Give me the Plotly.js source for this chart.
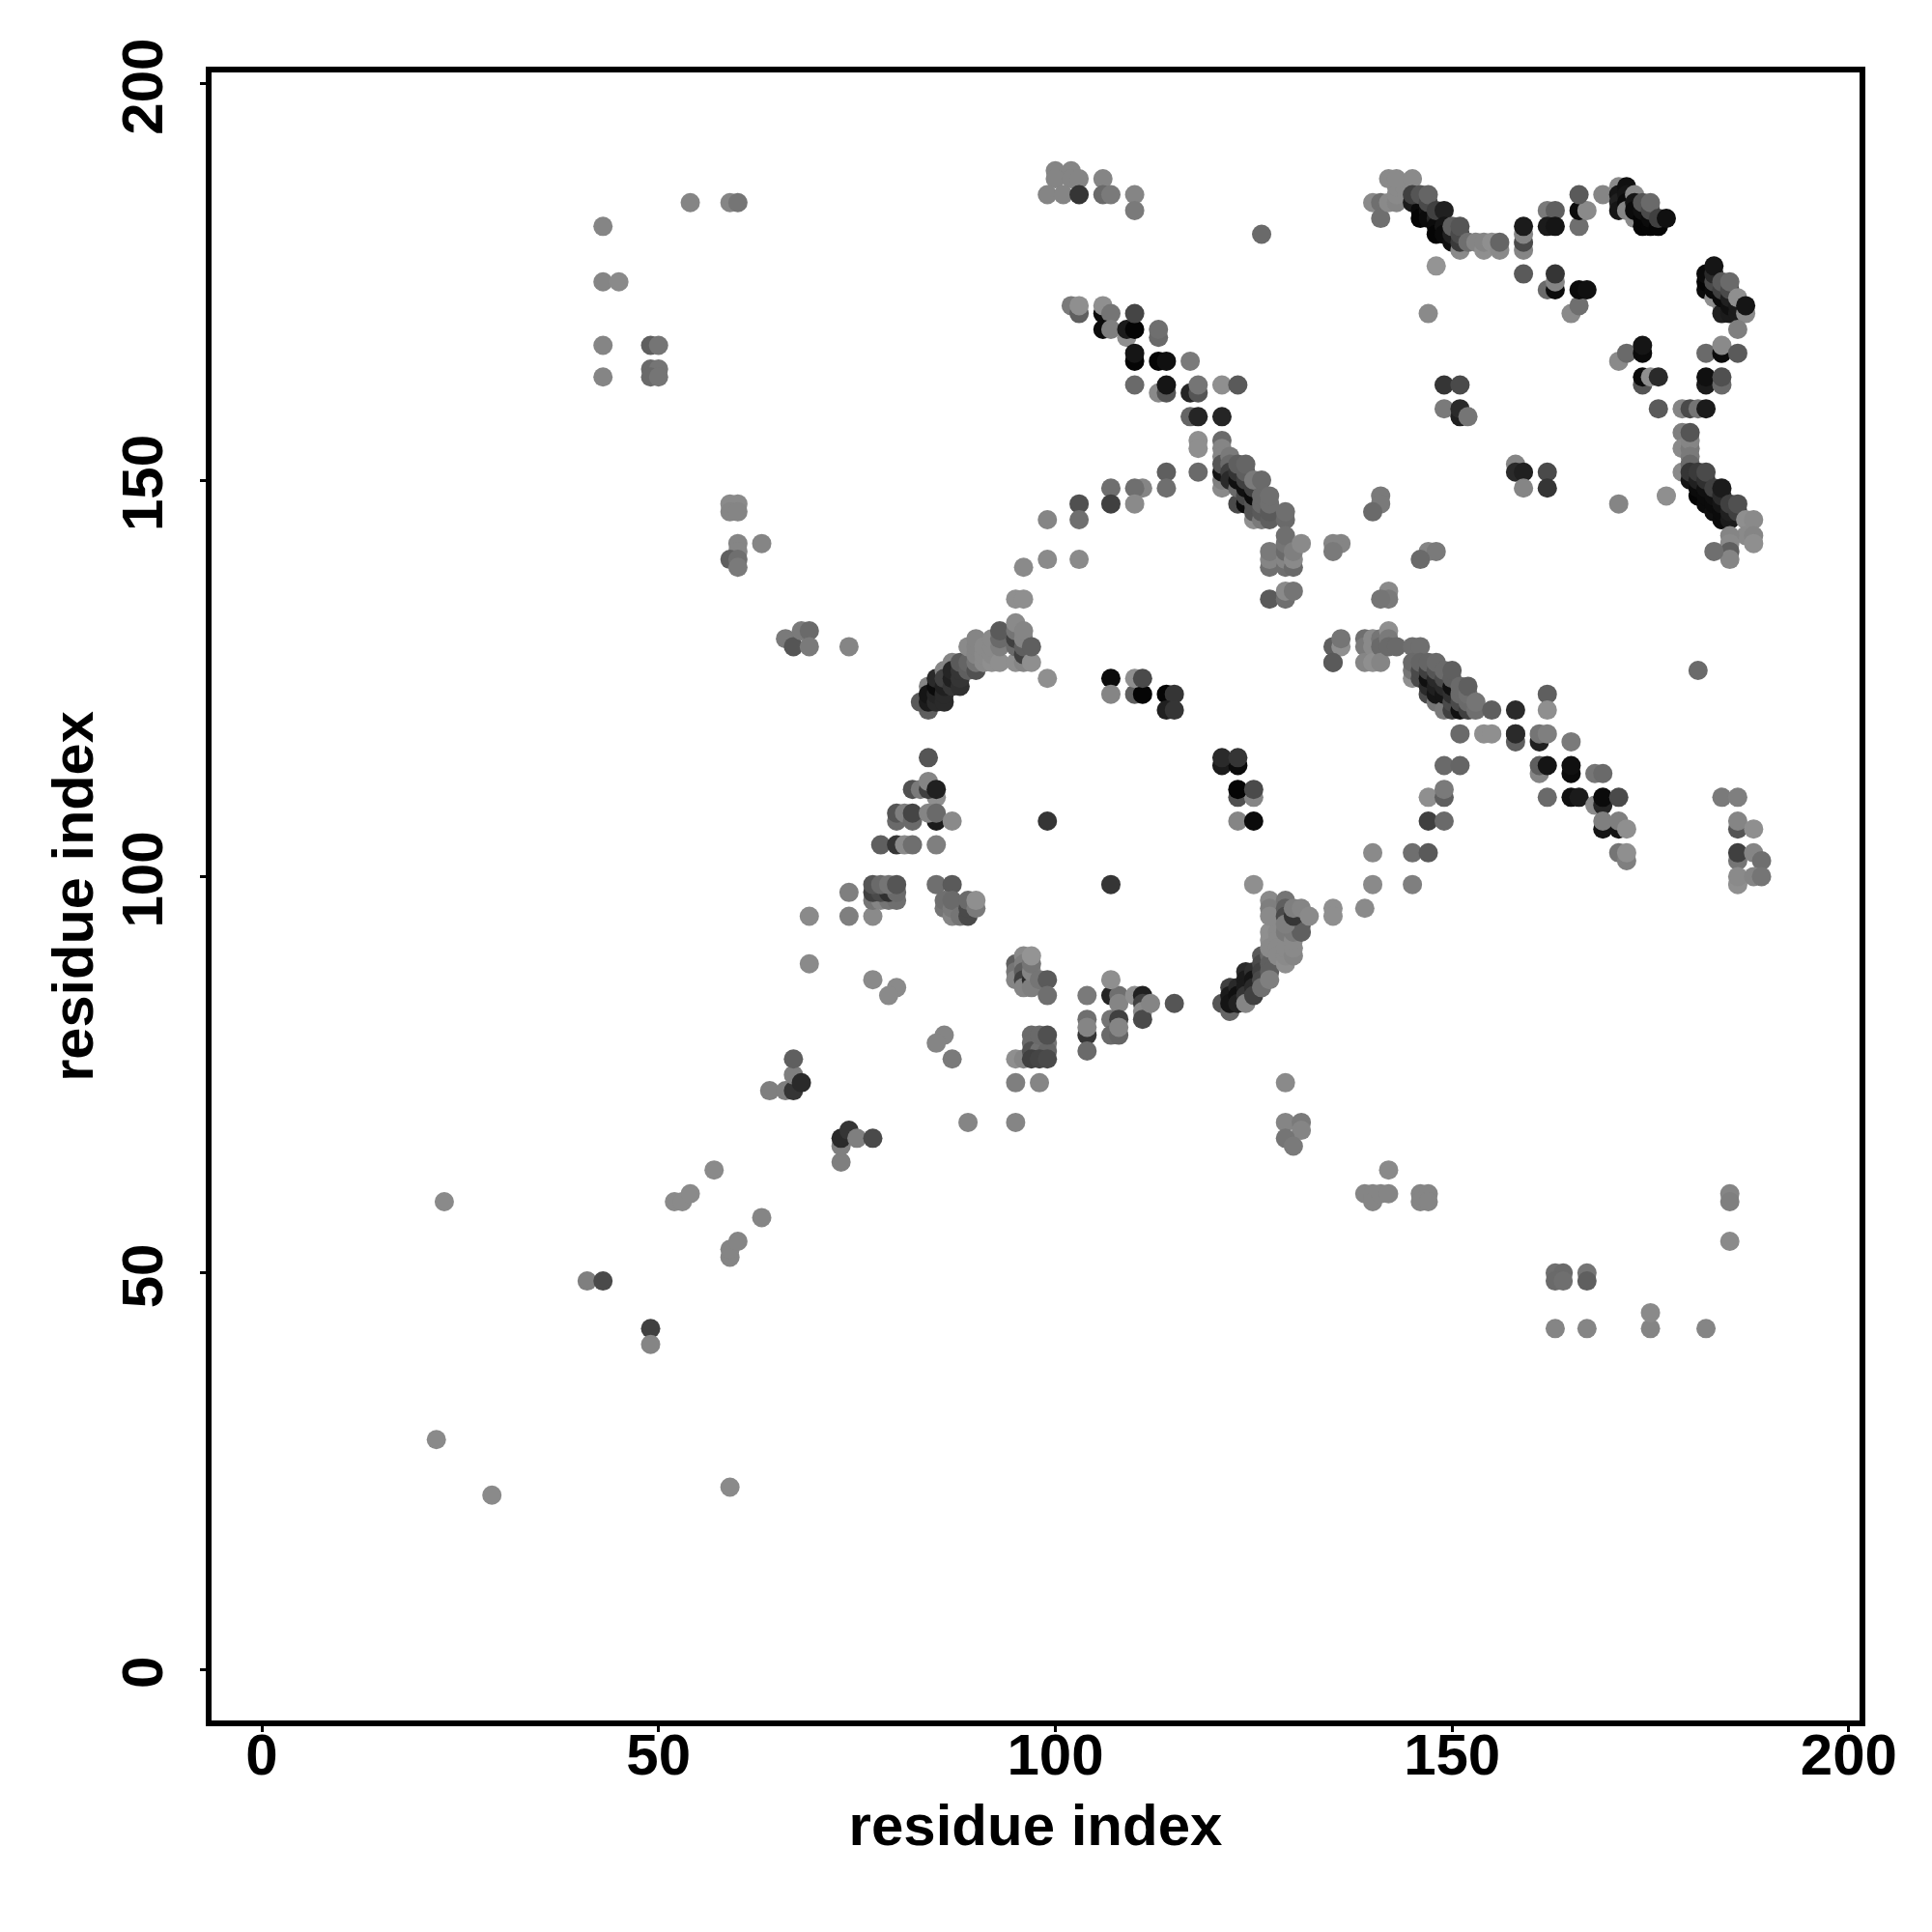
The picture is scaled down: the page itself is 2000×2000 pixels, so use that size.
<!DOCTYPE html>
<html><head><meta charset="utf-8">
<script src="https://cdn.plot.ly/plotly-3.0.1.min.js"></script>
<style>html,body{margin:0;padding:0;background:#fff}</style></head>
<body><div id="chart" style="width:2000px;height:2000px"></div>
<script>
// each entry: residue x, residue y, grey level
const lowerLeft=[[22,29,130],[29,22,130],[59,23,130],[23,59,130],[41,49,120],[43,49,70],[49,43,60],[49,41,125],[59,52,125],[59,53,125],[60,54,125],[63,57,125],[57,63,130],[52,59,130],[53,59,130],[54,60,130]];
const lowDiag=[[64,73,120],[66,73,120],[67,73,50],[67,75,120],[67,77,90],[68,74,40],[73,64,120],[73,66,120],[73,67,40],[74,68,50],[75,67,120],[77,67,70],[69,89,130],[69,95,130],[74,95,120],[74,98,120],[77,87,130],[80,86,130],[79,85,130],[86,80,125],[85,79,125],[87,77,115],[89,69,125],[95,69,125],[95,74,120],[98,74,125],[95,77,135]];
const blockA=[[96,77,125],[97,80,100],[97,79,100],[99,79,110],[97,78,75],[98,78,105],[99,78,95],[97,77,60],[98,77,65],[99,77,70],[98,80,100],[99,80,75]];
const blockB=[[95,89,90],[95,88,110],[95,87,125],[96,90,130],[96,89,120],[96,88,90],[96,87,60],[96,86,125],[97,87,40],[97,86,120],[97,88,125],[97,89,110],[98,87,110],[99,87,85],[99,85,105],[97,90,140]];
const blockC=[[104,85,115],[107,85,35],[108,85,105],[108,84,125],[107,87,135],[110,85,135],[111,85,30],[111,84,60],[111,83,130],[111,82,70],[112,84,125],[115,84,80],[104,80,50],[104,82,105],[104,81,125],[104,78,100],[107,82,110],[107,80,100],[108,80,95],[108,82,60],[108,81,125]];
const arcLowRight=[[121,84,80],[122,83,95],[122,86,60],[122,85,25],[122,84,20],[123,86,40],[123,85,15],[123,84,30],[124,88,40],[124,87,25],[124,86,25],[124,85,50],[124,84,125],[125,88,45],[125,87,20],[125,86,40],[125,85,60],[126,90,85],[126,89,70],[126,88,60],[126,87,70],[126,86,105],[127,90,100],[127,89,90],[127,88,90],[127,87,120],[127,93,135],[127,92,135],[127,91,130],[128,93,130],[128,92,130],[128,91,130],[128,90,130],[129,89,135],[129,90,130],[129,91,130],[129,93,115],[130,90,125],[130,91,130],[130,92,130],[130,93,115],[131,94,70],[131,93,90],[127,97,130],[127,96,120],[127,95,130],[129,97,110],[129,96,90],[129,95,70],[129,94,120],[130,95,50],[130,96,120],[131,96,125],[132,95,130],[135,96,135],[135,95,135],[125,99,135]];
const midRight=[[139,96,130],[140,99,130],[140,103,130],[145,99,120],[145,103,105],[147,103,85],[147,107,60],[149,107,100],[147,110,135],[149,110,90],[149,111,115],[149,114,100],[151,114,95],[151,118,100],[154,118,135],[155,118,135],[158,118,90],[158,117,90],[158,118,40],[158,121,40],[162,123,90],[162,121,135],[161,117,30],[161,118,110],[162,118,120],[165,117,115]];
const stepsRight=[[161,113,125],[161,114,90],[162,114,20],[165,113,10],[165,114,15],[168,113,110],[169,113,100],[162,110,100],[165,110,15],[166,110,25],[168,109,130],[169,109,35],[169,110,10],[171,110,70],[169,106,20],[171,106,20],[169,107,120],[171,107,120],[172,106,135],[171,103,110],[172,102,120],[172,103,135],[181,126,100]];
const farRight=[[184,110,115],[186,110,120],[186,106,80],[186,107,125],[188,106,135],[186,102,110],[186,103,60],[188,103,125],[189,102,105],[186,99,135],[186,100,130],[188,100,125],[189,100,110]];
const bandCentre=[[135,127,85],[135,129,90],[136,129,135],[136,130,110],[139,130,105],[139,129,115],[139,127,125],[140,130,130],[140,129,130],[140,127,135],[141,130,110],[141,129,100],[141,127,125],[142,131,135],[142,130,115],[142,129,100],[143,129,100],[145,129,105],[146,129,105]];
const bandCentre2=[[145,125,135],[145,126,110],[145,127,100],[146,125,70],[146,126,70],[146,127,95],[147,123,70],[147,124,40],[147,125,15],[147,126,60],[147,127,95],[148,122,110],[148,123,20],[148,124,30],[148,125,40],[148,126,80],[148,127,100],[149,121,115],[149,123,20],[149,124,40],[149,125,70],[149,126,100],[150,121,60],[150,122,70],[150,123,45],[150,124,15],[150,125,90],[150,126,90],[151,121,15],[151,122,70],[151,123,100],[151,124,100],[152,121,60],[152,122,100],[152,123,105],[152,124,90],[153,121,105],[153,122,110],[155,121,90]];
const topBandA=[[140,185,130],[141,185,105],[141,183,105],[142,185,130],[143,185,125],[143,186,130],[143,187,130],[144,187,130],[142,188,130],[143,188,130],[145,188,130],[145,185,25],[146,185,30],[146,184,10],[146,183,5],[147,184,15],[147,183,10],[145,186,60],[146,186,80],[147,185,70],[147,186,95],[148,183,35],[148,182,10],[148,181,5],[148,184,60],[149,184,30],[149,182,20],[149,181,10],[150,180,15],[150,181,30],[150,182,90],[151,179,130],[151,180,55],[151,181,70],[151,182,80],[152,180,105],[153,180,125],[154,179,135],[154,180,125],[155,180,135],[156,179,130],[156,180,95]];
const topMid=[[148,177,140],[147,171,130],[159,179,125],[159,180,70],[159,181,125],[159,182,25],[159,176,85],[162,184,115],[163,184,90],[162,182,25],[163,182,20],[166,182,105],[166,184,10],[167,184,130],[166,186,85],[169,186,125],[162,174,100],[163,174,10],[163,175,125],[163,176,50],[165,171,130],[166,172,105],[166,174,10],[167,174,15]];
const topBandB=[[171,187,130],[171,186,20],[171,185,30],[171,184,20],[172,187,15],[172,186,20],[172,185,10],[172,184,125],[173,183,130],[173,186,130],[173,185,20],[173,184,10],[174,182,5],[174,183,5],[174,184,15],[174,185,80],[175,182,5],[175,183,10],[175,184,70],[175,185,100],[176,182,5],[176,183,60],[177,183,15]];
const topBandC=[[182,174,10],[182,175,5],[182,176,10],[183,173,135],[183,174,10],[183,175,70],[183,176,40],[183,177,20],[184,172,130],[184,171,30],[184,173,10],[184,174,60],[184,175,85],[185,171,25],[185,172,15],[185,173,30],[185,174,70],[185,175,100],[186,171,25],[186,172,25],[186,173,135],[187,171,130],[187,172,20],[186,169,120]];
const rightMid=[[171,165,130],[172,166,100],[174,166,10],[174,167,20],[174,162,80],[174,163,10],[175,163,135],[176,163,40],[176,159,85],[179,159,125],[180,159,70],[181,159,110],[182,159,25],[182,166,100],[184,166,10],[184,167,130],[186,166,85],[182,162,25],[182,163,15],[184,162,100],[184,163,75]];
const lowerBandD=[[179,156,120],[179,154,130],[179,151,130],[180,154,115],[180,155,125],[180,156,80],[180,153,115],[180,152,100],[180,150,20],[180,151,50],[181,148,5],[181,149,10],[181,150,30],[181,151,55],[182,147,10],[182,148,10],[182,149,15],[182,150,45],[182,151,70],[183,146,15],[183,147,10],[183,148,15],[183,149,60],[184,145,10],[184,146,10],[184,147,20],[184,148,40],[184,149,25],[185,145,25],[185,146,30],[185,147,60],[186,146,60],[186,147,75],[187,145,135],[188,145,130],[187,143,130],[188,143,125],[188,142,135],[185,143,125],[185,142,130],[185,141,90],[185,140,125],[183,141,105],[177,148,135],[171,147,125]];
const midIslands=[[149,162,50],[151,162,70],[149,159,115],[151,158,30],[151,159,40],[152,158,110],[158,152,125],[158,151,40],[159,151,30],[159,149,125],[162,151,70],[162,149,50],[141,148,115],[141,147,115],[140,146,100],[147,141,125],[148,141,115],[146,140,100],[136,142,125],[135,142,125],[135,141,115],[142,136,130],[142,135,115],[141,135,110],[135,127,85]];
const bandUpperMid=[[102,172,115],[103,171,90],[103,172,135],[106,171,10],[106,172,135],[107,171,110],[106,169,10],[107,169,120],[109,168,135],[109,169,25],[110,169,5],[110,171,65],[113,168,100],[113,169,105],[110,165,5],[110,166,20],[113,165,5],[114,165,15],[117,165,115],[110,162,100],[113,161,130],[114,161,80],[114,162,20],[117,161,35],[118,161,80],[118,162,110],[121,162,135],[123,162,85],[117,158,95],[118,158,35],[121,158,35],[118,155,135],[118,154,135],[118,151,100]];
const bandCore=[[121,155,100],[121,154,125],[121,153,125],[121,149,130],[121,150,120],[121,151,20],[121,152,80],[122,153,115],[122,152,100],[122,151,60],[122,150,40],[123,147,70],[123,149,100],[123,150,15],[123,151,50],[123,152,90],[124,147,10],[124,148,70],[124,149,15],[124,150,60],[124,151,90],[124,152,95],[125,145,135],[125,146,80],[125,147,80],[125,148,10],[125,149,60],[125,150,115],[126,145,115],[126,146,85],[126,147,100],[126,148,100],[126,150,100],[127,145,90],[127,146,85],[127,147,105],[127,148,105],[129,145,100],[129,146,105]];
const bandLower=[[127,139,105],[127,140,125],[127,141,115],[129,139,105],[129,140,125],[129,141,100],[129,142,110],[129,143,105],[130,139,100],[130,140,130],[130,141,120],[131,142,130],[127,135,85],[129,135,105],[129,136,130],[130,136,110]];
const ring=[[114,151,90],[114,149,105],[111,149,125],[110,149,105],[107,149,105],[107,147,60],[103,147,75],[103,145,105],[110,147,130],[99,145,125],[99,140,130],[103,140,130],[96,139,130],[95,135,135],[96,135,135],[99,125,135]];
const arcLeft=[[84,121,90],[83,122,85],[84,124,125],[84,122,25],[84,123,20],[85,122,40],[85,123,35],[85,124,10],[85,125,40],[86,126,125],[86,122,40],[86,123,40],[86,124,30],[86,125,60],[87,127,125],[87,124,50],[87,125,30],[87,126,35],[88,124,45],[88,125,50],[88,126,50],[88,127,85],[89,126,90],[89,127,95],[90,126,75],[90,127,110],[89,129,130],[90,128,125],[90,129,125],[90,130,125],[91,127,130],[91,128,130],[91,129,130],[92,127,135],[92,128,130],[92,129,130],[92,130,130],[93,127,135],[93,129,120],[93,130,100],[93,131,85],[95,127,135],[95,129,100],[95,130,60],[95,131,110],[95,132,130],[96,127,125],[96,128,60],[96,129,90],[96,130,125],[96,131,125],[97,127,135],[97,129,90]];
const innerPoints=[[107,125,10],[107,123,125],[110,123,90],[111,123,5],[110,125,135],[111,125,70],[114,123,5],[115,123,50],[114,121,30],[115,121,50],[121,114,25],[123,114,10],[121,115,40],[123,115,50],[123,110,75],[125,110,125],[123,111,5],[125,111,70],[123,107,125],[125,107,10],[99,107,50],[107,99,50]];
const leftClusters=[[84,115,80],[85,110,135],[82,111,75],[83,111,115],[84,111,60],[84,112,125],[85,111,30],[80,107,100],[80,108,80],[81,108,120],[82,107,100],[82,108,65],[85,107,25],[84,108,125],[85,108,100],[87,107,130],[78,104,90],[80,104,50],[81,104,130],[82,104,105],[85,104,120],[77,95,130],[77,97,110],[78,97,125],[79,97,110],[80,97,105],[77,98,60],[78,98,70],[79,98,45],[80,98,100],[77,99,80],[78,99,100],[79,99,110],[80,99,80],[85,99,105],[87,99,85],[86,96,110],[86,97,105],[87,95,125],[87,96,115],[87,97,100],[88,95,110],[89,95,70],[89,96,70],[89,97,100],[90,96,115],[90,97,135]];
const farLeft=[[43,182,125],[43,175,125],[45,175,130],[43,167,125],[43,163,125],[49,167,90],[50,167,110],[49,164,100],[50,164,110],[49,163,100],[50,163,110],[54,185,125],[59,185,125],[60,185,110],[59,147,130],[60,147,130],[59,146,125],[60,146,125],[60,142,125],[60,141,125],[63,142,125],[59,140,90],[60,140,105],[60,139,115],[66,130,115],[67,129,80],[68,131,115],[69,131,100],[69,129,115],[74,129,125]];
const topCluster=[[100,189,125],[102,189,125],[100,188,125],[102,188,125],[103,188,125],[99,186,125],[101,186,125],[103,186,50],[106,188,125],[106,186,100],[107,186,115],[110,186,125],[110,184,115],[126,181,100]];
const bottomRight=[[129,74,130],[129,69,125],[131,69,115],[131,68,125],[129,67,110],[130,66,115],[163,43,125],[167,43,125],[175,43,125],[175,45,130],[182,43,125],[185,54,130],[185,60,125],[185,59,120],[163,50,105],[164,50,100],[163,49,100],[164,49,105],[167,50,110],[167,49,90],[139,60,125],[140,60,125],[140,59,125],[141,60,125],[142,60,125],[142,63,130],[146,60,125],[147,60,125],[146,59,125],[147,59,125]];

const allPoints=[].concat(lowerLeft,lowDiag,blockA,blockB,blockC,arcLowRight,midRight,stepsRight,farRight,bandCentre,bandCentre2,topBandA,topMid,topBandB,topBandC,rightMid,lowerBandD,midIslands,bandUpperMid,bandCore,bandLower,ring,arcLeft,innerPoints,leftClusters,farLeft,topCluster,bottomRight);
const tickVals=[0,50,100,150,200];
const axisTitle='residue index';
const fontFamily='"Liberation Sans", Arial, sans-serif';
const greyCss=g=>{const v=Math.round(g*1.06);return `rgb(${v},${v},${v})`;};

const trace={type:'scatter',mode:'markers',
  x:allPoints.map(p=>p[0]),y:allPoints.map(p=>p[1]),
  marker:{size:20,line:{width:0},color:allPoints.map(p=>greyCss(p[2]))},
  hoverinfo:'x+y'};
const axisCommon={showgrid:false,zeroline:false,showline:true,mirror:true,linecolor:'#000',linewidth:6,
  ticks:'outside',ticklen:6,tickwidth:3,tickcolor:'#000',tickmode:'array',tickvals:tickVals,ticktext:tickVals.map(String),
  tickfont:{family:fontFamily,size:60,color:'#000',weight:700}};
const layout={width:2000,height:2000,paper_bgcolor:'#fff',plot_bgcolor:'#fff',showlegend:false,
  margin:{l:219,r:75.3,t:74.7,b:219,pad:0},
  xaxis:Object.assign({},axisCommon,{range:[-6.33,201.35],tickangle:0,ticklabelstandoff:-28,
    title:{text:'<b>'+axisTitle+'</b>',font:{family:fontFamily,size:60,color:'#000'},standoff:21}}),
  yaxis:Object.assign({},axisCommon,{range:[-6.42,201.41],tickangle:-90,ticklabelstandoff:15,ticklabelshift:12,
    title:{text:'<b>'+axisTitle+'</b>',font:{family:fontFamily,size:59.5,color:'#000'},standoff:0}})};
Plotly.newPlot('chart',[trace],layout,{staticPlot:true,displayModeBar:false});
</script></body></html>
